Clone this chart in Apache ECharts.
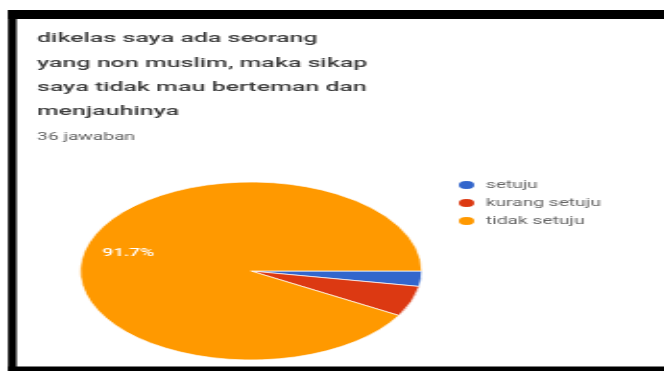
<!DOCTYPE html>
<html>
<head>
<meta charset="utf-8">
<script src="https://cdn.jsdelivr.net/npm/echarts@6/dist/echarts.min.js"></script>
<style>
  html, body { margin: 0; padding: 0; background: #fff; overflow: hidden; }
  #chart { position: absolute; left: 0; top: 0; height: 371px; transform-origin: 0 0; }
</style>
</head>
<body>
<div id="chart"></div>
<script>
// ---- data ----
const titleLines = ['dikelas saya ada seorang', 'yang non muslim, maka sikap', 'saya tidak mau berteman dan', 'menjauhinya'];
const subtitleText = '36 jawaban';
const categories = ['setuju', 'kurang setuju', 'tidak setuju'];
const counts = [1, 2, 33];

// ---- style ----
const sliceColors = ['#3366cc', '#dc3912', '#ff9900'];
const SX = 1.92;           // horizontal stretch of the screenshot
const W = 665, H = 371;
const el = document.getElementById('chart');
el.style.width = (W / SX) + 'px';
el.style.transform = 'scaleX(' + SX + ')';
const X = v => v / SX;     // screen x -> chart x

const chart = echarts.init(el, null, { renderer: 'canvas' });
const pieData = categories.map((c, i) => ({ name: c, value: counts[i], itemStyle: { color: sliceColors[i] } }));
const center = [X(251), 271];
const R = 89;

chart.setOption({
  animation: false,
  backgroundColor: '#fff',
  title: [
    {
      text: titleLines.join('\n'),
      left: X(37), top: 27,
      padding: 0,
      textStyle: { fontFamily: 'Roboto', fontSize: 13, fontWeight: 500, color: '#3c3c3c', lineHeight: 24.3 }
    },
    {
      text: subtitleText,
      left: X(37), top: 132,
      padding: 0,
      textStyle: { fontFamily: 'Roboto', fontSize: 10, fontWeight: 'normal', color: '#5f5f5f' }
    }
  ],
  legend: {
    orient: 'vertical',
    left: X(455), top: 179,
    padding: 0,
    itemWidth: 10, itemHeight: 10,
    itemGap: 6,
    icon: 'circle',
    data: categories,
    textStyle: { fontFamily: 'Roboto', fontSize: 10, color: '#666' }
  },
  graphic: [
    { type: 'rect', shape: { x: X(8), y: 10, width: X(W - 8), height: 9 }, style: { fill: '#000' } },
    { type: 'rect', shape: { x: X(8), y: 10, width: X(8.5), height: H - 10 }, style: { fill: '#000' } },
    { type: 'rect', shape: { x: X(8), y: 366.5, width: X(W - 8), height: 5 }, style: { fill: '#000' } }
  ],
  series: [
    {
      type: 'pie',
      center: center,
      radius: [0, R],
      startAngle: 0,
      clockwise: true,
      data: pieData,
      label: { show: false },
      labelLine: { show: false },
      itemStyle: { borderColor: '#fff', borderWidth: 0.7 },
      emphasis: { disabled: true }
    },
    {
      type: 'pie',
      center: center,
      radius: [R * 0.42, R],
      startAngle: 0,
      clockwise: true,
      silent: true,
      legendHoverLink: false,
      data: categories.map((c, i) => ({ name: c, value: counts[i] })),
      itemStyle: { color: 'transparent', borderWidth: 0 },
      label: {
        show: true,
        position: 'inside',
        fontFamily: 'Roboto',
        fontSize: 10,
        fontWeight: 500,
        color: '#fff',
        formatter: p => p.percent > 10 ? p.percent.toFixed(1) + '%' : ''
      },
      labelLine: { show: false },
      emphasis: { disabled: true }
    }
  ]
});
</script>
</body>
</html>
